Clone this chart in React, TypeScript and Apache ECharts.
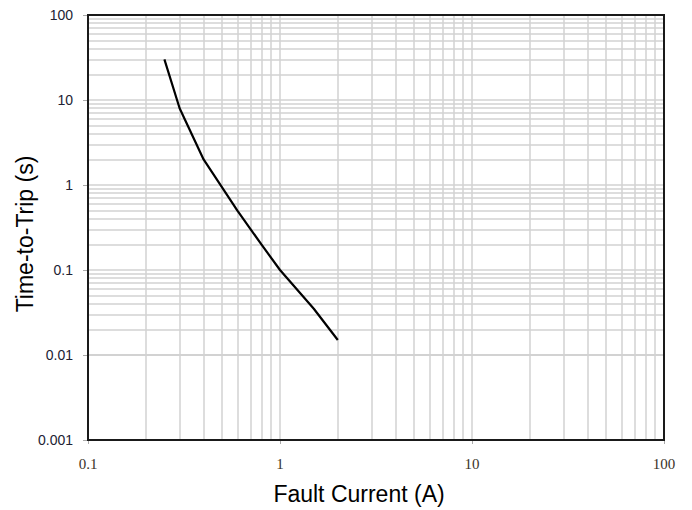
import React, { useEffect, useRef } from "react";
import * as echarts from "echarts";

const faultCurrent = [0.25, 0.3, 0.4, 0.6, 0.8, 1, 1.5, 2];
const tripTime = [30, 8, 2, 0.5, 0.2, 0.1, 0.035, 0.015];

const xDecades = [0.1, 1, 10];
const yDecades = [0.001, 0.01, 0.1, 1, 10];
const multipliers = [1, 2, 3, 4, 5, 6, 7, 8, 9];

const xTitle = "Fault Current (A)";
const yTitle = "Time-to-Trip (s)";

function gridValues(decades: number[]) {
  const out: number[] = [];
  decades.forEach((d, i) => {
    multipliers.forEach((m) => {
      if (i === 0 && m === 1) return;
      out.push(Number((d * m).toPrecision(3)));
    });
  });
  return out;
}

const fmt = (v: number) => String(Number(v.toPrecision(1)));

export default function App() {
  const ref = useRef<HTMLDivElement>(null);
  useEffect(() => {
    if (!ref.current) return;
    const chart = echarts.init(ref.current, null, { renderer: "svg" });
    const lineStyle = { color: "#d2d2d2", width: 1.5, type: "solid" as const };
    const markData = [
      ...gridValues(xDecades).map((v) => ({ xAxis: v })),
      ...gridValues(yDecades).map((v) => ({ yAxis: v })),
    ];
    chart.setOption({
      animation: false,
      backgroundColor: "#ffffff",
      grid: {
        left: 88,
        right: 28,
        top: 15,
        bottom: 70,
        show: true,
        borderColor: "#1a1a1a",
        borderWidth: 2,
        z: 5,
      },
      xAxis: {
        type: "log",
        logBase: 10,
        min: 0.1,
        max: 100,
        splitNumber: 3,
        axisLine: { show: false },
        axisTick: { show: true, length: 4, lineStyle: { color: "#aaaaaa" } },
        splitLine: { show: false },
        minorTick: { show: false },
        axisLabel: {
          formatter: fmt,
          fontFamily: "Liberation Serif",
          fontSize: 15,
          color: "#3a3228",
          margin: 16,
        },
      },
      yAxis: {
        type: "log",
        logBase: 10,
        min: 0.001,
        max: 100,
        splitNumber: 5,
        axisLine: { show: false },
        axisTick: { show: true, length: 5, lineStyle: { color: "#aaaaaa" } },
        splitLine: { show: false },
        axisLabel: {
          formatter: fmt,
          fontFamily: "Liberation Sans",
          fontSize: 14,
          color: "#222233",
          margin: 15,
        },
      },
      graphic: [
        {
          type: "text",
          style: {
            text: xTitle,
            font: '23px "Liberation Sans"',
            fill: "#000000",
            align: "center",
            verticalAlign: "middle",
          },
          x: 359,
          y: 494,
        },
        {
          type: "text",
          style: {
            text: yTitle,
            font: '23px "Liberation Sans"',
            fill: "#000000",
            align: "center",
            verticalAlign: "middle",
          },
          x: 25,
          y: 234,
          rotation: Math.PI / 2,
        },
      ],
      series: [
        {
          type: "line",
          data: faultCurrent.map((x, i) => [x, tripTime[i]]),
          showSymbol: false,
          symbol: "none",
          smooth: false,
          lineStyle: { color: "#000000", width: 2.2 },
          z: 3,
          markLine: {
            silent: true,
            symbol: ["none", "none"],
            label: { show: false },
            lineStyle,
            emphasis: { disabled: true },
            data: markData,
            z: 1,
          },
        },
      ],
    });
    return () => chart.dispose();
  }, []);
  return (
    <div
      ref={ref}
      style={{ position: "absolute", left: 0, top: 0, width: 692, height: 510 }}
    />
  );
}
